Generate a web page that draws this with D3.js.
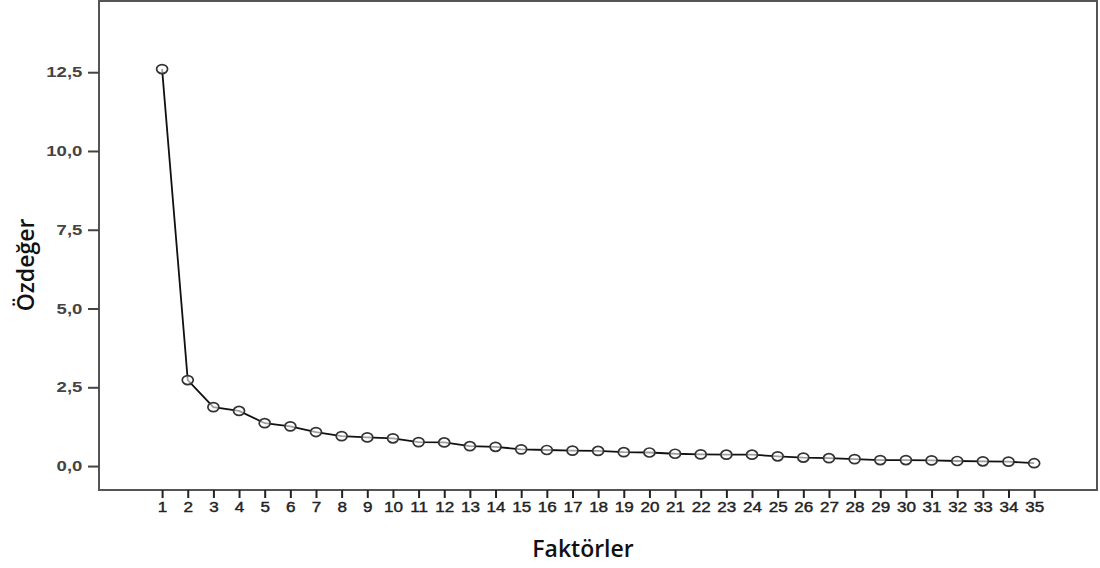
<!DOCTYPE html>
<html>
<head>
<meta charset="utf-8">
<script src="https://cdn.jsdelivr.net/npm/d3@7"></script>
<style>
  body { margin: 0; background: white; }
</style>
</head>
<body>
<svg id="scree" width="1100" height="568"></svg>
<script>
/* DATA */
const factors = d3.range(1, 36)
const eigenvalues = [12.6, 2.73, 1.87, 1.75, 1.36, 1.26, 1.08, 0.95, 0.91, 0.88,
  0.76, 0.75, 0.63, 0.61, 0.53, 0.51, 0.49, 0.48, 0.44, 0.43,
  0.39, 0.37, 0.36, 0.36, 0.31, 0.27, 0.25, 0.22, 0.19, 0.19,
  0.18, 0.16, 0.15, 0.14, 0.09]
const yTicks = [0, 2.5, 5, 7.5, 10, 12.5]

/* LAYOUT */
const plotLeft = 99
const plotRight = 1097
const plotTop = 1
const plotBottom = 490

const svg = d3.select('#scree')
const g = svg.append('g')

const x = d3.scaleLinear().domain([-1.46, 37.45]).range([plotLeft, plotRight])
const y = d3.scaleLinear().domain([-0.76, 14.76]).range([plotBottom, plotTop])

// Frame
g.append('rect')
  .attr('x', plotLeft)
  .attr('y', plotTop)
  .attr('width', plotRight - plotLeft)
  .attr('height', plotBottom - plotTop)
  .attr('fill', 'white')
  .attr('stroke', '#555')
  .attr('stroke-width', 2)

// Y axis
const yAxis = g.append('g')
  .attr('transform', `translate(${plotLeft},0)`)
  .call(d3.axisLeft(y).tickValues(yTicks).tickSize(11).tickPadding(2)
    .tickFormat(d => d3.format('.1f')(d).replace('.', ',')))
yAxis.select('.domain').remove()
yAxis.selectAll('line').attr('stroke', '#444').attr('stroke-width', 2)
yAxis.selectAll('text')
  .attr('fill', '#444')
  .attr('transform', 'scale(1.28,1)')
  .style('font-family', 'Liberation Sans, Arial, sans-serif')
  .style('font-size', '14.5px')
  .style('font-weight', 'bold')

// X axis
const xAxis = g.append('g')
  .attr('transform', `translate(0,${plotBottom})`)
  .call(d3.axisBottom(x).tickValues(factors).tickSize(8).tickPadding(4)
    .tickFormat(d3.format('d')))
xAxis.select('.domain').remove()
xAxis.selectAll('line').attr('stroke', '#222').attr('stroke-width', 2)
xAxis.selectAll('text')
  .attr('fill', '#222')
  .attr('stroke', '#222')
  .attr('stroke-width', 0.4)
  .attr('transform', 'scale(1.22,1)')
  .style('font-family', 'Liberation Sans, Arial, sans-serif')
  .style('font-size', '14px')

// Line
const line = d3.line()
  .x((d, i) => x(factors[i]))
  .y(d => y(d))

g.append('path')
  .datum(eigenvalues)
  .attr('d', line)
  .attr('fill', 'none')
  .attr('stroke', '#111')
  .attr('stroke-width', 1.8)

// Points
g.selectAll('ellipse')
  .data(eigenvalues)
  .enter()
  .append('ellipse')
  .attr('cx', (d, i) => x(factors[i]))
  .attr('cy', d => y(d))
  .attr('rx', 5.5)
  .attr('ry', 4.5)
  .attr('fill', 'white')
  .attr('fill-opacity', 0.6)
  .attr('stroke', '#333')
  .attr('stroke-width', 1.7)

// Axis titles
g.append('text')
  .attr('transform', 'translate(34,265) rotate(-90)')
  .attr('text-anchor', 'middle')
  .style('font-family', 'Open Sans, Noto Sans, sans-serif')
  .style('font-size', '23px')
  .style('font-weight', 600)
  .attr('fill', '#111')
  .text('Özdeğer')

g.append('text')
  .attr('x', 583)
  .attr('y', 557)
  .attr('text-anchor', 'middle')
  .style('font-family', 'Open Sans, Noto Sans, sans-serif')
  .style('font-size', '23px')
  .style('font-weight', 600)
  .attr('fill', '#111')
  .text('Faktörler')
</script>
</body>
</html>
